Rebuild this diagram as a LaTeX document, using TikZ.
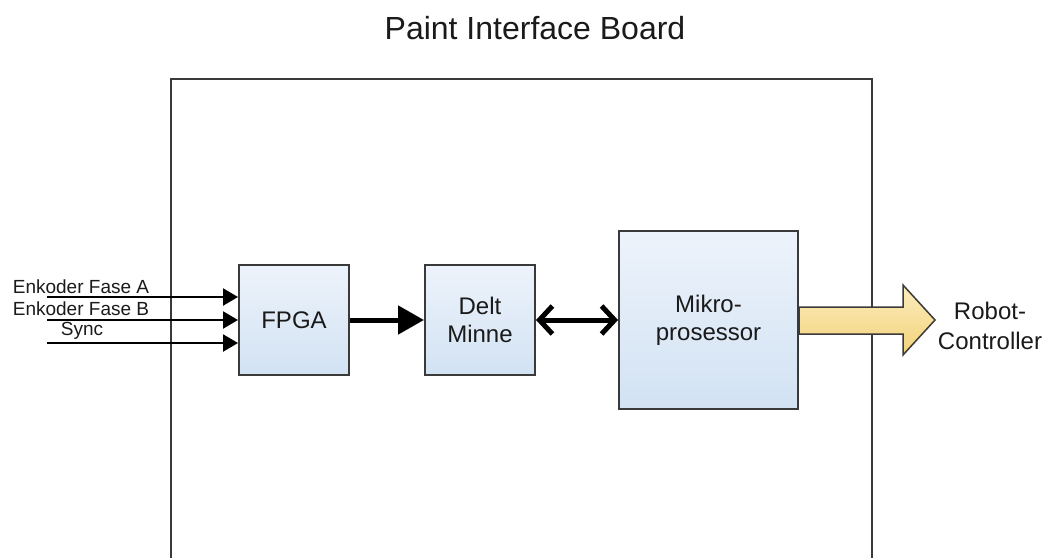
\documentclass[tikz,border=0pt]{standalone}
\usepackage{fontspec}
\setmainfont{Liberation Sans}
\usetikzlibrary{arrows.meta,calc}
\definecolor{edge}{HTML}{3A3A3A}
\definecolor{boxtop}{HTML}{EDF3FB}
\definecolor{boxbot}{HTML}{D2E2F3}
\definecolor{ytop}{HTML}{FCEDBE}
\definecolor{ybot}{HTML}{F2D27A}
\definecolor{txt}{HTML}{1A1A1A}
\begin{document}
\begin{tikzpicture}[x=1pt,y=-1pt,
  blockbox/.style={draw=edge,line width=2pt,top color=boxtop,bottom color=boxbot,text=txt,align=center,font=\fontsize{24}{28}\selectfont,inner sep=0pt},
  inarrow/.style={line width=2.2pt,-{Triangle[length=15pt,width=17pt]}},
  lbl/.style={font=\fontsize{19}{22}\selectfont,text=txt,inner sep=0pt}]
\useasboundingbox (0,0) rectangle (1044,557);
% board
\draw[edge,line width=2.2pt] (171,600) -- (171,79) -- (872,79) -- (872,600);
\node[font=\fontsize{32}{36}\selectfont,text=txt] (title) at (535,28) {Paint Interface Board};
% blocks
\node[blockbox,minimum width=110pt,minimum height=110pt] (fpga) at (294,320) {FPGA};
\node[blockbox,minimum width=110pt,minimum height=110pt] (mem) at (480,320) {Delt\\Minne};
\node[blockbox,minimum width=179pt,minimum height=178pt] (cpu) at (708.5,320) {Mikro-\\prosessor};
% inputs
\coordinate (ia) at (47,297);
\coordinate (ib) at (47,320);
\coordinate (ic) at (47,343);
\draw[inarrow] (ia) -- (ia -| fpga.west);
\draw[inarrow] (ib) -- (ib -| fpga.west);
\draw[inarrow] (ic) -- (ic -| fpga.west);
\node[lbl] (la) at (81,287) {Enkoder Fase A};
\node[lbl] (lb) at (81,309) {Enkoder Fase B};
\node[lbl] (lc) at (82,331) {Sync};
% fpga -> mem
\draw[line width=5pt,-{Triangle[length=26pt,width=28pt]}] (fpga.east) -- (mem.west);
% mem <-> cpu
\draw[line width=5pt,{Straight Barb[length=13pt,width=28pt,line width=5pt]}-{Straight Barb[length=13pt,width=28pt,line width=5pt]}] (mem.east) -- (cpu.east -| cpu.west);
% big arrow
\coordinate (bs) at (cpu.east);
\coordinate (tip) at (935,320);
\draw[edge,line width=1.5pt,top color=ytop,bottom color=ybot,line join=miter]
  (bs |- 0,307) -- (903,307) -- (903,285) -- (tip) -- (903,355) -- (903,334) -- (bs |- 0,334) -- cycle;
\node[font=\fontsize{24}{30}\selectfont,text=txt,align=center] (robot) at (990,326) {Robot-\\Controller};
\end{tikzpicture}
\end{document}
